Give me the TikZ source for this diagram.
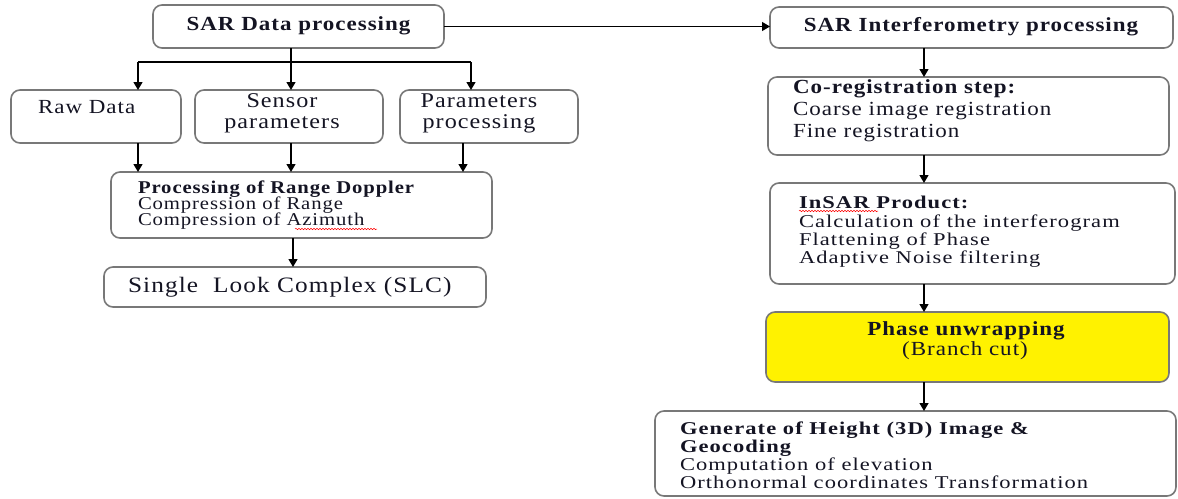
\documentclass[tikz,border=0pt]{standalone}
\usepackage{fontspec}
\setmainfont{Liberation Serif}[FakeStretch=1.15,LetterSpace=5]
\newfontfamily\widefont{Liberation Serif}[FakeStretch=1.25,LetterSpace=6]
\usetikzlibrary{arrows.meta,decorations.pathmorphing}
\definecolor{boxline}{RGB}{120,120,120}
\definecolor{puyellow}{RGB}{255,242,0}
\definecolor{ink}{RGB}{20,20,35}
\tikzset{
  box/.style={draw=boxline,line width=1.6pt,rounded corners=9pt,inner sep=0pt,outer sep=0pt},
  arr/.style={draw=black,line width=1.3pt,-{Triangle[width=9pt,length=8pt]}},
  conn/.style={draw=black,line width=1.3pt},
  txt/.style={inner sep=0pt,outer sep=0pt,text=ink,font=\fontsize{20}{22}\selectfont},
  txtb/.style={txt,font=\fontsize{20}{22}\selectfont\bfseries},
  wtxt/.style={txt,font=\widefont\fontsize{18}{20}\selectfont},
  wtxtb/.style={txt,font=\widefont\fontsize{18}{20}\selectfont\bfseries},
  sq/.style={draw=red,line width=0.5pt,decorate,decoration={snake,amplitude=0.7pt,segment length=3pt}}
}
\begin{document}
\begin{tikzpicture}[x=1pt,y=-1pt]
\useasboundingbox (0,0) rectangle (1178,498);
% boxes
\node[box,minimum width=291pt,minimum height=43pt] (sdp) at (298.5,26.5) {};
\node[box,minimum width=170pt,minimum height=53pt] (raw) at (96,116.5) {};
\node[box,minimum width=188pt,minimum height=53pt] (sen) at (289,116.5) {};
\node[box,minimum width=178pt,minimum height=53pt] (par) at (489,116.5) {};
\node[box,minimum width=381pt,minimum height=66pt] (rd) at (301.5,205) {};
\node[box,minimum width=382pt,minimum height=40pt] (slc) at (295,287) {};
\node[box,minimum width=403pt,minimum height=41pt] (sip) at (971.5,27.5) {};
\node[box,minimum width=401pt,minimum height=78pt] (cor) at (968.5,116) {};
\node[box,minimum width=405pt,minimum height=101pt] (ins) at (972.5,233.5) {};
\node[box,fill=puyellow,minimum width=403pt,minimum height=70pt] (pu) at (967.5,347) {};
\node[box,minimum width=521pt,minimum height=85pt] (gen) at (915.5,453.5) {};
% texts
\node[txtb,anchor=base] (tsdp) at (298.5,30) {SAR Data processing};
\node[txt,anchor=base west] (traw) at (38,113) {Raw Data};
\node[txt,anchor=base,font=\fontsize{21}{22}\selectfont] (tsen1) at (282,107) {Sensor};
\node[txt,anchor=base,font=\fontsize{21}{22}\selectfont] (tsen2) at (282,128) {parameters};
\node[txt,anchor=base,font=\fontsize{21}{22}\selectfont] (tpar1) at (479,107) {Parameters};
\node[txt,anchor=base,font=\fontsize{21}{22}\selectfont] (tpar2) at (479,128) {processing};
\node[txt,anchor=base west,font=\fontsize{18}{20}\selectfont\bfseries] (trd1) at (138,193) {Processing of Range Doppler};
\node[txt,anchor=base west,font=\fontsize{18}{20}\selectfont] (trd2) at (138,209) {Compression of Range};
\node[txt,anchor=base west,font=\fontsize{18}{20}\selectfont] (trd3) at (138,225) {Compression of Azimuth};
\node[txt,anchor=base west,font=\fontsize{22}{24}\selectfont] (tslc) at (128,292) {Single\ \ Look Complex (SLC)};
\node[txtb,anchor=base] (tsip) at (971,31) {SAR Interferometry processing};
\node[txtb,anchor=base west] (tcor1) at (793,93) {Co-registration step:};
\node[txt,anchor=base west] (tcor2) at (793,115) {Coarse image registration};
\node[txt,anchor=base west] (tcor3) at (793,137) {Fine registration};
\node[wtxtb,anchor=base west] (tins1) at (799,208) {InSAR Product:};
\node[wtxt,anchor=base west] (tins2) at (799,227) {Calculation of the interferogram};
\node[wtxt,anchor=base west] (tins3) at (799,245) {Flattening of Phase};
\node[wtxt,anchor=base west] (tins4) at (799,263) {Adaptive Noise filtering};
\node[txtb,anchor=base] (tpu1) at (966,335) {Phase unwrapping};
\node[txt,anchor=base] (tpu2) at (965,355) {(Branch cut)};
\node[wtxtb,anchor=base west] (tgen1) at (680,434) {Generate of Height (3D) Image \&};
\node[wtxtb,anchor=base west] (tgen2) at (680,452) {Geocoding};
\node[wtxt,anchor=base west] (tgen3) at (680,470) {Computation of elevation};
\node[wtxt,anchor=base west] (tgen4) at (680,488) {Orthonormal coordinates Transformation};
% spell-check squiggles
\draw[sq] (295,229) -- (377,229);
\draw[sq] (799,211) -- (878,211);
% connector helper coordinates
\coordinate (jm) at (291,62);
\coordinate (jl) at (138,62);
\coordinate (jr) at (471,62);
\coordinate (c3) at (463,0);
\coordinate (cm) at (293,0);
\coordinate (ax) at (924,0);
% connectors
\draw[conn] (sdp.south -| jm) -- (jm);
\draw[conn] (jl) -- (jr);
\draw[arr] (jl) -- (raw.north -| jl);
\draw[arr] (jm) -- (sen.north -| jm);
\draw[arr] (jr) -- (par.north -| jr);
\draw[arr] (raw.south -| jl) -- (rd.north -| jl);
\draw[arr] (sen.south -| jm) -- (rd.north -| jm);
\draw[arr] (par.south -| c3) -- (rd.north -| c3);
\draw[arr] (rd.south -| cm) -- (slc.north -| cm);
\draw[arr] (sdp.east) -- (sdp.east -| sip.west);
\draw[arr] (sip.south -| ax) -- (cor.north -| ax);
\draw[arr] (cor.south -| ax) -- (ins.north -| ax);
\draw[arr] (ins.south -| ax) -- (pu.north -| ax);
\draw[arr] (pu.south -| ax) -- (gen.north -| ax);
\end{tikzpicture}
\end{document}
